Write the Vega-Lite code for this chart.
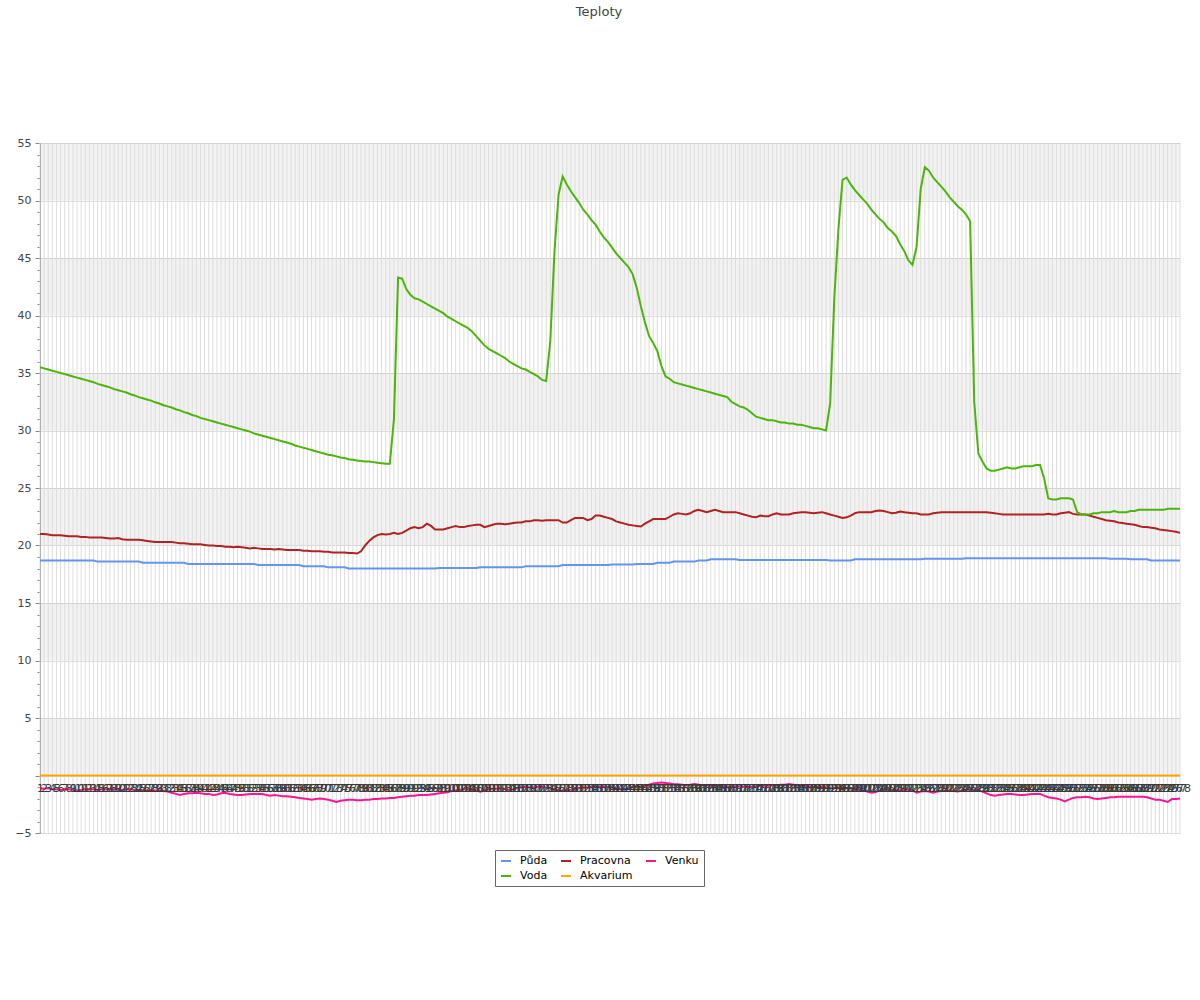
{
"$schema": "https://vega.github.io/schema/vega-lite/v6.json",
"autosize": {"type": "none"},
"width": 1140,
"height": 690,
"padding": {"left": 40, "top": 143, "right": 20, "bottom": 167},
"background": "#ffffff",
"title": {"text": "Teploty", "fontSize": 13, "fontWeight": "normal", "color": "#444444", "anchor": "middle", "frame": "group", "dx": -11, "offset": 118},
"config": {"font": "DejaVu Sans", "view": {"stroke": null}, "axisY": {"labelOverlap": false}, "axisX": {"labelOverlap": false}},
"data": {"values": [
{"i":1,"p":18.7,"v":35.5,"r":21.0,"a":0,"k":-1.1},
{"i":2,"p":18.7,"v":35.4,"r":21.0,"a":0,"k":-1.15},
{"i":3,"p":18.7,"v":35.3,"r":20.95,"a":0,"k":-1.1},
{"i":4,"p":18.7,"v":35.2,"r":20.9,"a":0,"k":-1.2},
{"i":5,"p":18.7,"v":35.1,"r":20.9,"a":0,"k":-1.2},
{"i":6,"p":18.7,"v":35.0,"r":20.9,"a":0,"k":-1.25},
{"i":7,"p":18.7,"v":34.9,"r":20.85,"a":0,"k":-1.2},
{"i":8,"p":18.7,"v":34.8,"r":20.8,"a":0,"k":-1.2},
{"i":9,"p":18.7,"v":34.7,"r":20.8,"a":0,"k":-1.25},
{"i":10,"p":18.7,"v":34.6,"r":20.8,"a":0,"k":-1.3},
{"i":11,"p":18.7,"v":34.5,"r":20.75,"a":0,"k":-1.25},
{"i":12,"p":18.7,"v":34.4,"r":20.75,"a":0,"k":-1.2},
{"i":13,"p":18.7,"v":34.3,"r":20.7,"a":0,"k":-1.2},
{"i":14,"p":18.7,"v":34.2,"r":20.7,"a":0,"k":-1.2},
{"i":15,"p":18.6,"v":34.05,"r":20.7,"a":0,"k":-1.25},
{"i":16,"p":18.6,"v":33.95,"r":20.7,"a":0,"k":-1.2},
{"i":17,"p":18.6,"v":33.85,"r":20.65,"a":0,"k":-1.2},
{"i":18,"p":18.6,"v":33.75,"r":20.6,"a":0,"k":-1.15},
{"i":19,"p":18.6,"v":33.6,"r":20.6,"a":0,"k":-1.2},
{"i":20,"p":18.6,"v":33.5,"r":20.65,"a":0,"k":-1.2},
{"i":21,"p":18.6,"v":33.4,"r":20.55,"a":0,"k":-1.25},
{"i":22,"p":18.6,"v":33.3,"r":20.5,"a":0,"k":-1.2},
{"i":23,"p":18.6,"v":33.15,"r":20.5,"a":0,"k":-1.2},
{"i":24,"p":18.6,"v":33.05,"r":20.5,"a":0,"k":-1.25},
{"i":25,"p":18.6,"v":32.9,"r":20.5,"a":0,"k":-1.25},
{"i":26,"p":18.5,"v":32.8,"r":20.45,"a":0,"k":-1.3},
{"i":27,"p":18.5,"v":32.7,"r":20.4,"a":0,"k":-1.3},
{"i":28,"p":18.5,"v":32.6,"r":20.35,"a":0,"k":-1.3},
{"i":29,"p":18.5,"v":32.45,"r":20.3,"a":0,"k":-1.3},
{"i":30,"p":18.5,"v":32.35,"r":20.3,"a":0,"k":-1.3},
{"i":31,"p":18.5,"v":32.2,"r":20.3,"a":0,"k":-1.35},
{"i":32,"p":18.5,"v":32.1,"r":20.3,"a":0,"k":-1.4},
{"i":33,"p":18.5,"v":32.0,"r":20.3,"a":0,"k":-1.5},
{"i":34,"p":18.5,"v":31.85,"r":20.25,"a":0,"k":-1.6},
{"i":35,"p":18.5,"v":31.75,"r":20.2,"a":0,"k":-1.7},
{"i":36,"p":18.5,"v":31.6,"r":20.2,"a":0,"k":-1.6},
{"i":37,"p":18.4,"v":31.5,"r":20.15,"a":0,"k":-1.55},
{"i":38,"p":18.4,"v":31.35,"r":20.1,"a":0,"k":-1.55},
{"i":39,"p":18.4,"v":31.25,"r":20.1,"a":0,"k":-1.5},
{"i":40,"p":18.4,"v":31.1,"r":20.1,"a":0,"k":-1.55},
{"i":41,"p":18.4,"v":31.0,"r":20.05,"a":0,"k":-1.6},
{"i":42,"p":18.4,"v":30.9,"r":20.0,"a":0,"k":-1.6},
{"i":43,"p":18.4,"v":30.8,"r":20.0,"a":0,"k":-1.7},
{"i":44,"p":18.4,"v":30.7,"r":19.95,"a":0,"k":-1.65},
{"i":45,"p":18.4,"v":30.6,"r":19.95,"a":0,"k":-1.55},
{"i":46,"p":18.4,"v":30.5,"r":19.9,"a":0,"k":-1.5},
{"i":47,"p":18.4,"v":30.4,"r":19.9,"a":0,"k":-1.6},
{"i":48,"p":18.4,"v":30.3,"r":19.85,"a":0,"k":-1.65},
{"i":49,"p":18.4,"v":30.2,"r":19.9,"a":0,"k":-1.7},
{"i":50,"p":18.4,"v":30.1,"r":19.85,"a":0,"k":-1.7},
{"i":51,"p":18.4,"v":30.0,"r":19.8,"a":0,"k":-1.65},
{"i":52,"p":18.4,"v":29.9,"r":19.75,"a":0,"k":-1.6},
{"i":53,"p":18.4,"v":29.75,"r":19.8,"a":0,"k":-1.6},
{"i":54,"p":18.3,"v":29.65,"r":19.75,"a":0,"k":-1.6},
{"i":55,"p":18.3,"v":29.55,"r":19.7,"a":0,"k":-1.6},
{"i":56,"p":18.3,"v":29.45,"r":19.7,"a":0,"k":-1.7},
{"i":57,"p":18.3,"v":29.35,"r":19.7,"a":0,"k":-1.75},
{"i":58,"p":18.3,"v":29.25,"r":19.65,"a":0,"k":-1.7},
{"i":59,"p":18.3,"v":29.15,"r":19.7,"a":0,"k":-1.75},
{"i":60,"p":18.3,"v":29.05,"r":19.65,"a":0,"k":-1.8},
{"i":61,"p":18.3,"v":28.95,"r":19.6,"a":0,"k":-1.8},
{"i":62,"p":18.3,"v":28.85,"r":19.6,"a":0,"k":-1.85},
{"i":63,"p":18.3,"v":28.7,"r":19.6,"a":0,"k":-1.9},
{"i":64,"p":18.3,"v":28.6,"r":19.6,"a":0,"k":-1.95},
{"i":65,"p":18.2,"v":28.5,"r":19.55,"a":0,"k":-2.0},
{"i":66,"p":18.2,"v":28.4,"r":19.55,"a":0,"k":-2.05},
{"i":67,"p":18.2,"v":28.3,"r":19.5,"a":0,"k":-2.1},
{"i":68,"p":18.2,"v":28.2,"r":19.5,"a":0,"k":-2.05},
{"i":69,"p":18.2,"v":28.1,"r":19.5,"a":0,"k":-2.0},
{"i":70,"p":18.2,"v":28.0,"r":19.45,"a":0,"k":-2.05},
{"i":71,"p":18.1,"v":27.9,"r":19.45,"a":0,"k":-2.1},
{"i":72,"p":18.1,"v":27.85,"r":19.4,"a":0,"k":-2.2},
{"i":73,"p":18.1,"v":27.75,"r":19.4,"a":0,"k":-2.3},
{"i":74,"p":18.1,"v":27.65,"r":19.4,"a":0,"k":-2.2},
{"i":75,"p":18.1,"v":27.6,"r":19.4,"a":0,"k":-2.15},
{"i":76,"p":18.0,"v":27.5,"r":19.35,"a":0,"k":-2.1},
{"i":77,"p":18.0,"v":27.45,"r":19.35,"a":0,"k":-2.1},
{"i":78,"p":18.0,"v":27.4,"r":19.3,"a":0,"k":-2.15},
{"i":79,"p":18.0,"v":27.35,"r":19.5,"a":0,"k":-2.15},
{"i":80,"p":18.0,"v":27.3,"r":20.0,"a":0,"k":-2.1},
{"i":81,"p":18.0,"v":27.3,"r":20.4,"a":0,"k":-2.1},
{"i":82,"p":18.0,"v":27.25,"r":20.7,"a":0,"k":-2.05},
{"i":83,"p":18.0,"v":27.2,"r":20.9,"a":0,"k":-2.05},
{"i":84,"p":18.0,"v":27.15,"r":21.0,"a":0,"k":-2.0},
{"i":85,"p":18.0,"v":27.1,"r":20.95,"a":0,"k":-2.0},
{"i":86,"p":18.0,"v":27.1,"r":21.0,"a":0,"k":-1.95},
{"i":87,"p":18.0,"v":31.0,"r":21.1,"a":0,"k":-1.95},
{"i":88,"p":18.0,"v":43.3,"r":21.0,"a":0,"k":-1.9},
{"i":89,"p":18.0,"v":43.2,"r":21.1,"a":0,"k":-1.85},
{"i":90,"p":18.0,"v":42.3,"r":21.3,"a":0,"k":-1.8},
{"i":91,"p":18.0,"v":41.8,"r":21.5,"a":0,"k":-1.75},
{"i":92,"p":18.0,"v":41.5,"r":21.6,"a":0,"k":-1.75},
{"i":93,"p":18.0,"v":41.4,"r":21.5,"a":0,"k":-1.7},
{"i":94,"p":18.0,"v":41.2,"r":21.6,"a":0,"k":-1.7},
{"i":95,"p":18.0,"v":41.0,"r":21.9,"a":0,"k":-1.7},
{"i":96,"p":18.0,"v":40.8,"r":21.7,"a":0,"k":-1.65},
{"i":97,"p":18.0,"v":40.6,"r":21.4,"a":0,"k":-1.6},
{"i":98,"p":18.05,"v":40.4,"r":21.4,"a":0,"k":-1.55},
{"i":99,"p":18.05,"v":40.2,"r":21.4,"a":0,"k":-1.5},
{"i":100,"p":18.05,"v":39.9,"r":21.5,"a":0,"k":-1.45},
{"i":101,"p":18.05,"v":39.7,"r":21.6,"a":0,"k":-1.35},
{"i":102,"p":18.05,"v":39.5,"r":21.7,"a":0,"k":-1.3},
{"i":103,"p":18.05,"v":39.3,"r":21.6,"a":0,"k":-1.25},
{"i":104,"p":18.05,"v":39.1,"r":21.6,"a":0,"k":-1.2},
{"i":105,"p":18.05,"v":38.9,"r":21.7,"a":0,"k":-1.2},
{"i":106,"p":18.05,"v":38.6,"r":21.75,"a":0,"k":-1.2},
{"i":107,"p":18.05,"v":38.2,"r":21.8,"a":0,"k":-1.3},
{"i":108,"p":18.1,"v":37.8,"r":21.8,"a":0,"k":-1.4},
{"i":109,"p":18.1,"v":37.4,"r":21.6,"a":0,"k":-1.3},
{"i":110,"p":18.1,"v":37.1,"r":21.7,"a":0,"k":-1.2},
{"i":111,"p":18.1,"v":36.9,"r":21.8,"a":0,"k":-1.15},
{"i":112,"p":18.1,"v":36.7,"r":21.9,"a":0,"k":-1.15},
{"i":113,"p":18.1,"v":36.5,"r":21.9,"a":0,"k":-1.1},
{"i":114,"p":18.1,"v":36.3,"r":21.85,"a":0,"k":-1.2},
{"i":115,"p":18.1,"v":36.0,"r":21.9,"a":0,"k":-1.25},
{"i":116,"p":18.1,"v":35.8,"r":21.95,"a":0,"k":-1.2},
{"i":117,"p":18.1,"v":35.6,"r":22.0,"a":0,"k":-1.1},
{"i":118,"p":18.1,"v":35.4,"r":22.0,"a":0,"k":-1.0},
{"i":119,"p":18.2,"v":35.3,"r":22.1,"a":0,"k":-1.0},
{"i":120,"p":18.2,"v":35.1,"r":22.1,"a":0,"k":-1.05},
{"i":121,"p":18.2,"v":34.9,"r":22.2,"a":0,"k":-1.05},
{"i":122,"p":18.2,"v":34.7,"r":22.2,"a":0,"k":-1.0},
{"i":123,"p":18.2,"v":34.4,"r":22.15,"a":0,"k":-1.0},
{"i":124,"p":18.2,"v":34.3,"r":22.2,"a":0,"k":-1.05},
{"i":125,"p":18.2,"v":37.8,"r":22.2,"a":0,"k":-1.1},
{"i":126,"p":18.2,"v":45.5,"r":22.2,"a":0,"k":-1.2},
{"i":127,"p":18.2,"v":50.5,"r":22.2,"a":0,"k":-1.3},
{"i":128,"p":18.3,"v":52.1,"r":22.0,"a":0,"k":-1.35},
{"i":129,"p":18.3,"v":51.4,"r":22.0,"a":0,"k":-1.3},
{"i":130,"p":18.3,"v":50.8,"r":22.2,"a":0,"k":-1.25},
{"i":131,"p":18.3,"v":50.3,"r":22.4,"a":0,"k":-1.2},
{"i":132,"p":18.3,"v":49.8,"r":22.4,"a":0,"k":-1.1},
{"i":133,"p":18.3,"v":49.2,"r":22.4,"a":0,"k":-1.05},
{"i":134,"p":18.3,"v":48.8,"r":22.2,"a":0,"k":-1.05},
{"i":135,"p":18.3,"v":48.3,"r":22.3,"a":0,"k":-1.0},
{"i":136,"p":18.3,"v":47.9,"r":22.6,"a":0,"k":-1.0},
{"i":137,"p":18.3,"v":47.3,"r":22.6,"a":0,"k":-0.95},
{"i":138,"p":18.3,"v":46.8,"r":22.5,"a":0,"k":-0.95},
{"i":139,"p":18.3,"v":46.4,"r":22.4,"a":0,"k":-1.0},
{"i":140,"p":18.35,"v":45.9,"r":22.3,"a":0,"k":-1.05},
{"i":141,"p":18.35,"v":45.4,"r":22.1,"a":0,"k":-1.1},
{"i":142,"p":18.35,"v":45.0,"r":22.0,"a":0,"k":-1.15},
{"i":143,"p":18.35,"v":44.6,"r":21.9,"a":0,"k":-1.2},
{"i":144,"p":18.35,"v":44.2,"r":21.8,"a":0,"k":-1.1},
{"i":145,"p":18.35,"v":43.6,"r":21.75,"a":0,"k":-1.0},
{"i":146,"p":18.4,"v":42.4,"r":21.7,"a":0,"k":-0.95},
{"i":147,"p":18.4,"v":40.8,"r":21.65,"a":0,"k":-1.0},
{"i":148,"p":18.4,"v":39.4,"r":21.9,"a":0,"k":-0.9},
{"i":149,"p":18.4,"v":38.2,"r":22.1,"a":0,"k":-0.8},
{"i":150,"p":18.4,"v":37.6,"r":22.3,"a":0,"k":-0.7},
{"i":151,"p":18.5,"v":36.9,"r":22.3,"a":0,"k":-0.65},
{"i":152,"p":18.5,"v":35.6,"r":22.3,"a":0,"k":-0.6},
{"i":153,"p":18.5,"v":34.7,"r":22.3,"a":0,"k":-0.65},
{"i":154,"p":18.5,"v":34.5,"r":22.5,"a":0,"k":-0.7},
{"i":155,"p":18.6,"v":34.2,"r":22.7,"a":0,"k":-0.75},
{"i":156,"p":18.6,"v":34.1,"r":22.8,"a":0,"k":-0.75},
{"i":157,"p":18.6,"v":34.0,"r":22.75,"a":0,"k":-0.8},
{"i":158,"p":18.6,"v":33.9,"r":22.7,"a":0,"k":-0.85},
{"i":159,"p":18.6,"v":33.8,"r":22.8,"a":0,"k":-0.8},
{"i":160,"p":18.6,"v":33.7,"r":23.0,"a":0,"k":-0.75},
{"i":161,"p":18.7,"v":33.6,"r":23.1,"a":0,"k":-0.8},
{"i":162,"p":18.7,"v":33.5,"r":23.0,"a":0,"k":-0.85},
{"i":163,"p":18.7,"v":33.4,"r":22.9,"a":0,"k":-0.85},
{"i":164,"p":18.8,"v":33.3,"r":23.0,"a":0,"k":-0.9},
{"i":165,"p":18.8,"v":33.2,"r":23.1,"a":0,"k":-0.9},
{"i":166,"p":18.8,"v":33.1,"r":23.0,"a":0,"k":-0.9},
{"i":167,"p":18.8,"v":33.0,"r":22.9,"a":0,"k":-0.95},
{"i":168,"p":18.8,"v":32.9,"r":22.9,"a":0,"k":-1.0},
{"i":169,"p":18.8,"v":32.5,"r":22.9,"a":0,"k":-1.0},
{"i":170,"p":18.8,"v":32.3,"r":22.9,"a":0,"k":-0.95},
{"i":171,"p":18.75,"v":32.1,"r":22.8,"a":0,"k":-0.95},
{"i":172,"p":18.75,"v":32.0,"r":22.7,"a":0,"k":-1.0},
{"i":173,"p":18.75,"v":31.8,"r":22.6,"a":0,"k":-1.0},
{"i":174,"p":18.75,"v":31.5,"r":22.5,"a":0,"k":-1.0},
{"i":175,"p":18.75,"v":31.2,"r":22.45,"a":0,"k":-0.95},
{"i":176,"p":18.75,"v":31.1,"r":22.6,"a":0,"k":-0.9},
{"i":177,"p":18.75,"v":31.0,"r":22.55,"a":0,"k":-0.9},
{"i":178,"p":18.75,"v":30.9,"r":22.55,"a":0,"k":-0.9},
{"i":179,"p":18.75,"v":30.9,"r":22.7,"a":0,"k":-0.85},
{"i":180,"p":18.75,"v":30.8,"r":22.8,"a":0,"k":-0.85},
{"i":181,"p":18.75,"v":30.7,"r":22.7,"a":0,"k":-0.8},
{"i":182,"p":18.75,"v":30.7,"r":22.7,"a":0,"k":-0.8},
{"i":183,"p":18.75,"v":30.6,"r":22.7,"a":0,"k":-0.75},
{"i":184,"p":18.75,"v":30.6,"r":22.8,"a":0,"k":-0.8},
{"i":185,"p":18.75,"v":30.5,"r":22.85,"a":0,"k":-0.85},
{"i":186,"p":18.75,"v":30.5,"r":22.9,"a":0,"k":-0.9},
{"i":187,"p":18.75,"v":30.4,"r":22.9,"a":0,"k":-0.9},
{"i":188,"p":18.75,"v":30.3,"r":22.85,"a":0,"k":-0.95},
{"i":189,"p":18.75,"v":30.2,"r":22.8,"a":0,"k":-1.0},
{"i":190,"p":18.75,"v":30.2,"r":22.85,"a":0,"k":-1.0},
{"i":191,"p":18.75,"v":30.1,"r":22.9,"a":0,"k":-1.0},
{"i":192,"p":18.75,"v":30.0,"r":22.8,"a":0,"k":-1.05},
{"i":193,"p":18.7,"v":32.4,"r":22.7,"a":0,"k":-1.1},
{"i":194,"p":18.7,"v":41.5,"r":22.6,"a":0,"k":-1.1},
{"i":195,"p":18.7,"v":47.5,"r":22.5,"a":0,"k":-1.05},
{"i":196,"p":18.7,"v":51.8,"r":22.4,"a":0,"k":-1.05},
{"i":197,"p":18.7,"v":52.0,"r":22.45,"a":0,"k":-1.1},
{"i":198,"p":18.7,"v":51.4,"r":22.6,"a":0,"k":-1.1},
{"i":199,"p":18.8,"v":50.9,"r":22.8,"a":0,"k":-1.15},
{"i":200,"p":18.8,"v":50.5,"r":22.9,"a":0,"k":-1.2},
{"i":201,"p":18.8,"v":50.1,"r":22.9,"a":0,"k":-1.3},
{"i":202,"p":18.8,"v":49.7,"r":22.9,"a":0,"k":-1.4},
{"i":203,"p":18.8,"v":49.2,"r":22.9,"a":0,"k":-1.5},
{"i":204,"p":18.8,"v":48.8,"r":23.0,"a":0,"k":-1.45},
{"i":205,"p":18.8,"v":48.4,"r":23.05,"a":0,"k":-1.3},
{"i":206,"p":18.8,"v":48.1,"r":23.0,"a":0,"k":-1.2},
{"i":207,"p":18.8,"v":47.6,"r":22.9,"a":0,"k":-1.2},
{"i":208,"p":18.8,"v":47.3,"r":22.8,"a":0,"k":-1.25},
{"i":209,"p":18.8,"v":46.9,"r":22.85,"a":0,"k":-1.3},
{"i":210,"p":18.8,"v":46.2,"r":22.95,"a":0,"k":-1.3},
{"i":211,"p":18.8,"v":45.6,"r":22.9,"a":0,"k":-1.25},
{"i":212,"p":18.8,"v":44.8,"r":22.85,"a":0,"k":-1.2},
{"i":213,"p":18.8,"v":44.4,"r":22.8,"a":0,"k":-1.3},
{"i":214,"p":18.8,"v":46.0,"r":22.8,"a":0,"k":-1.5},
{"i":215,"p":18.8,"v":51.0,"r":22.7,"a":0,"k":-1.4},
{"i":216,"p":18.85,"v":52.9,"r":22.7,"a":0,"k":-1.35},
{"i":217,"p":18.85,"v":52.6,"r":22.7,"a":0,"k":-1.4},
{"i":218,"p":18.85,"v":52.0,"r":22.8,"a":0,"k":-1.5},
{"i":219,"p":18.85,"v":51.6,"r":22.85,"a":0,"k":-1.4},
{"i":220,"p":18.85,"v":51.2,"r":22.9,"a":0,"k":-1.35},
{"i":221,"p":18.85,"v":50.8,"r":22.9,"a":0,"k":-1.3},
{"i":222,"p":18.85,"v":50.3,"r":22.9,"a":0,"k":-1.3},
{"i":223,"p":18.85,"v":49.9,"r":22.9,"a":0,"k":-1.35},
{"i":224,"p":18.85,"v":49.5,"r":22.9,"a":0,"k":-1.4},
{"i":225,"p":18.85,"v":49.2,"r":22.9,"a":0,"k":-1.3},
{"i":226,"p":18.9,"v":48.8,"r":22.9,"a":0,"k":-1.25},
{"i":227,"p":18.9,"v":48.2,"r":22.9,"a":0,"k":-1.2},
{"i":228,"p":18.9,"v":32.5,"r":22.9,"a":0,"k":-1.25},
{"i":229,"p":18.9,"v":28.0,"r":22.9,"a":0,"k":-1.3},
{"i":230,"p":18.9,"v":27.3,"r":22.9,"a":0,"k":-1.4},
{"i":231,"p":18.9,"v":26.7,"r":22.9,"a":0,"k":-1.55},
{"i":232,"p":18.9,"v":26.5,"r":22.85,"a":0,"k":-1.7},
{"i":233,"p":18.9,"v":26.5,"r":22.8,"a":0,"k":-1.75},
{"i":234,"p":18.9,"v":26.6,"r":22.75,"a":0,"k":-1.7},
{"i":235,"p":18.9,"v":26.7,"r":22.7,"a":0,"k":-1.65},
{"i":236,"p":18.9,"v":26.8,"r":22.7,"a":0,"k":-1.6},
{"i":237,"p":18.9,"v":26.7,"r":22.7,"a":0,"k":-1.6},
{"i":238,"p":18.9,"v":26.7,"r":22.7,"a":0,"k":-1.65},
{"i":239,"p":18.9,"v":26.8,"r":22.7,"a":0,"k":-1.7},
{"i":240,"p":18.9,"v":26.9,"r":22.7,"a":0,"k":-1.7},
{"i":241,"p":18.9,"v":26.9,"r":22.7,"a":0,"k":-1.65},
{"i":242,"p":18.9,"v":26.9,"r":22.7,"a":0,"k":-1.6},
{"i":243,"p":18.9,"v":27.0,"r":22.7,"a":0,"k":-1.6},
{"i":244,"p":18.9,"v":27.0,"r":22.7,"a":0,"k":-1.6},
{"i":245,"p":18.9,"v":25.8,"r":22.7,"a":0,"k":-1.75},
{"i":246,"p":18.9,"v":24.1,"r":22.75,"a":0,"k":-1.9},
{"i":247,"p":18.9,"v":24.0,"r":22.7,"a":0,"k":-1.95},
{"i":248,"p":18.9,"v":24.0,"r":22.7,"a":0,"k":-2.0},
{"i":249,"p":18.9,"v":24.1,"r":22.8,"a":0,"k":-2.1},
{"i":250,"p":18.9,"v":24.1,"r":22.85,"a":0,"k":-2.25},
{"i":251,"p":18.9,"v":24.1,"r":22.9,"a":0,"k":-2.1},
{"i":252,"p":18.9,"v":24.0,"r":22.75,"a":0,"k":-1.95},
{"i":253,"p":18.9,"v":22.9,"r":22.7,"a":0,"k":-1.9},
{"i":254,"p":18.9,"v":22.7,"r":22.7,"a":0,"k":-1.9},
{"i":255,"p":18.9,"v":22.7,"r":22.7,"a":0,"k":-1.85},
{"i":256,"p":18.9,"v":22.7,"r":22.6,"a":0,"k":-1.9},
{"i":257,"p":18.9,"v":22.8,"r":22.5,"a":0,"k":-2.0},
{"i":258,"p":18.9,"v":22.8,"r":22.4,"a":0,"k":-2.05},
{"i":259,"p":18.9,"v":22.9,"r":22.3,"a":0,"k":-2.0},
{"i":260,"p":18.9,"v":22.9,"r":22.2,"a":0,"k":-1.95},
{"i":261,"p":18.85,"v":22.9,"r":22.15,"a":0,"k":-1.9},
{"i":262,"p":18.85,"v":23.0,"r":22.1,"a":0,"k":-1.9},
{"i":263,"p":18.85,"v":22.9,"r":22.0,"a":0,"k":-1.85},
{"i":264,"p":18.85,"v":22.9,"r":21.95,"a":0,"k":-1.85},
{"i":265,"p":18.85,"v":22.9,"r":21.9,"a":0,"k":-1.85},
{"i":266,"p":18.8,"v":23.0,"r":21.85,"a":0,"k":-1.85},
{"i":267,"p":18.8,"v":23.0,"r":21.8,"a":0,"k":-1.85},
{"i":268,"p":18.8,"v":23.1,"r":21.7,"a":0,"k":-1.85},
{"i":269,"p":18.8,"v":23.1,"r":21.6,"a":0,"k":-1.85},
{"i":270,"p":18.8,"v":23.1,"r":21.6,"a":0,"k":-1.9},
{"i":271,"p":18.7,"v":23.1,"r":21.55,"a":0,"k":-2.0},
{"i":272,"p":18.7,"v":23.1,"r":21.5,"a":0,"k":-2.1},
{"i":273,"p":18.7,"v":23.1,"r":21.4,"a":0,"k":-2.1},
{"i":274,"p":18.7,"v":23.1,"r":21.35,"a":0,"k":-2.2},
{"i":275,"p":18.7,"v":23.2,"r":21.3,"a":0,"k":-2.3},
{"i":276,"p":18.7,"v":23.2,"r":21.25,"a":0,"k":-2.05},
{"i":277,"p":18.7,"v":23.2,"r":21.2,"a":0,"k":-2.05},
{"i":278,"p":18.7,"v":23.2,"r":21.1,"a":0,"k":-2.0}
]},
"layer": [
{
"data": {"values": [{"lo":0,"hi":5},{"lo":10,"hi":15},{"lo":20,"hi":25},{"lo":30,"hi":35},{"lo":40,"hi":45},{"lo":50,"hi":55}]},
"mark": {"type": "rect", "color": "#000000", "opacity": 0.05},
"encoding": {
"y": {"field": "lo", "type": "quantitative", "scale": {"domain": [-5, 55], "nice": false, "zero": false},
"axis": {"title": null, "values": [-5,-4,-3,-2,-1,0,1,2,3,4,5,6,7,8,9,10,11,12,13,14,15,16,17,18,19,20,21,22,23,24,25,26,27,28,29,30,31,32,33,34,35,36,37,38,39,40,41,42,43,44,45,46,47,48,49,50,51,52,53,54,55],
"labelExpr": "(datum.value % 5 == 0 && datum.value != 0) ? datum.label : ''",
"tickSize": {"condition": {"test": "datum.value % 5 == 0", "value": 5}, "value": 3},
"grid": true, "gridColor": "#dddddd",
"gridOpacity": {"condition": {"test": "datum.value % 5 == 0", "value": 1}, "value": 0},
"domainColor": "#888888", "tickColor": "#888888", "labelColor": "#444444", "labelFontSize": 11, "labelPadding": 4, "labelOverlap": false}},
"y2": {"field": "hi"}
}
},
{
"mark": {"type": "rule", "color": "#dddddd", "strokeWidth": 1},
"encoding": {
"x": {"field": "i", "type": "ordinal", "scale": {"type": "point", "padding": 0},
"axis": {"title": null, "orient": "bottom", "offset": -58, "labelAngle": 0, "labelOverlap": false, "labelFontSize": 11, "labelColor": "#3a3a3a", "labelPadding": 7, "ticks": false, "domain": false, "grid": false, "zindex": 1}}
}
},
{
"transform": [{"fold": ["p", "r", "k", "v", "a"], "as": ["s", "t"]}],
"mark": {"type": "line", "strokeWidth": 2},
"encoding": {
"x": {"field": "i", "type": "ordinal", "scale": {"type": "point", "padding": 0},
"axis": {"title": null, "orient": "bottom", "offset": -58, "labelAngle": 0, "labelOverlap": false, "labelFontSize": 11, "labelColor": "#3a3a3a", "labelPadding": 7, "ticks": false, "domain": false, "grid": false, "zindex": 1}},
"y": {"field": "t", "type": "quantitative",
"axis": {"title": null, "values": [-5,-4,-3,-2,-1,0,1,2,3,4,5,6,7,8,9,10,11,12,13,14,15,16,17,18,19,20,21,22,23,24,25,26,27,28,29,30,31,32,33,34,35,36,37,38,39,40,41,42,43,44,45,46,47,48,49,50,51,52,53,54,55],
"labelExpr": "(datum.value % 5 == 0 && datum.value != 0) ? datum.label : ''",
"tickSize": {"condition": {"test": "datum.value % 5 == 0", "value": 5}, "value": 3},
"grid": true, "gridColor": "#dddddd",
"gridOpacity": {"condition": {"test": "datum.value % 5 == 0", "value": 1}, "value": 0},
"domainColor": "#888888", "tickColor": "#888888", "labelColor": "#444444", "labelFontSize": 11, "labelPadding": 4, "labelOverlap": false}},
"color": {"field": "s", "type": "nominal",
"scale": {"domain": ["p", "r", "k", "v", "a"], "range": ["#6495ed", "#b22222", "#ff1493", "#4cb50a", "#ffa500"]},
"legend": {"title": null, "orient": "none", "legendX": 455, "legendY": 707, "columns": 3, "direction": "horizontal",
"symbolType": "stroke", "symbolStrokeWidth": 2, "symbolSize": 100, "labelFontSize": 11, "labelColor": "#000000",
"strokeColor": "#666666", "fillColor": "#ffffff", "padding": 5, "labelOffset": 8, "columnPadding": 9, "rowPadding": 4, "gridAlign": "each",
"labelExpr": "datum.label == 'p' ? 'Půda' : datum.label == 'r' ? 'Pracovna' : datum.label == 'k' ? 'Venku' : datum.label == 'v' ? 'Voda' : 'Akvarium'"}}
}
}
]
}
